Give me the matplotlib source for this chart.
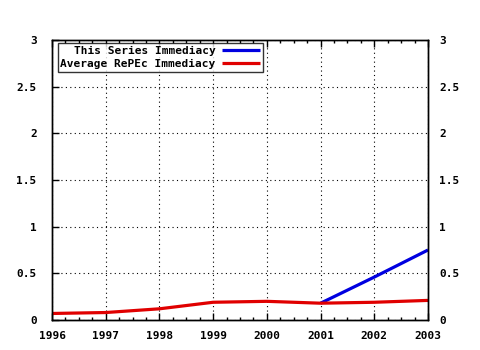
import matplotlib
matplotlib.use("Agg")
import matplotlib.pyplot as plt
from matplotlib.ticker import MultipleLocator

years = [1996, 1997, 1998, 1999, 2000, 2001, 2002, 2003]
avg_immediacy = [0.07, 0.08, 0.12, 0.19, 0.20, 0.18, 0.19, 0.21]
series_years = [2001, 2002, 2003]
series_immediacy = [0.18, 0.46, 0.75]
yticks = [0, 0.5, 1, 1.5, 2, 2.5, 3]
ytick_labels = ['0', '0.5', '1', '1.5', '2', '2.5', '3']

plt.rcParams['font.family'] = ['DejaVu Sans Mono']
plt.rcParams['font.weight'] = 'bold'

fig = plt.figure(figsize=(4.8, 3.5), dpi=100)
ax = fig.add_axes([52/480, 30/350, 376/480, 280/350])

ax.plot(series_years, series_immediacy, color='#0000e0', lw=2.3, label='This Series Immediacy', solid_capstyle='butt')
ax.plot(years, avg_immediacy, color='#e00000', lw=2.3, label='Average RePEc Immediacy', solid_capstyle='butt')

ax.set_xlim(1996, 2003)
ax.set_ylim(0, 3)
ax.set_xticks(years)
ax.set_xticklabels([str(y) for y in years])
ax.xaxis.set_minor_locator(MultipleLocator(0.25))
ax.set_yticks(yticks)
ax.set_yticklabels(ytick_labels)
ax.tick_params(axis='both', which='both', direction='in', top=True, right=True,
               labelsize=8, colors='black')
ax.tick_params(which='major', length=5, width=1)
ax.tick_params(which='minor', length=2.5, width=1)
ax.tick_params(axis='x', pad=8)
ax.tick_params(axis='y', pad=11)

ax2 = ax.twinx()
ax2.set_ylim(0, 3)
ax2.set_yticks(yticks)
ax2.set_yticklabels(ytick_labels)
ax2.tick_params(axis='y', direction='in', length=0, pad=8, labelsize=8)

for lab in ax.get_xticklabels() + ax.get_yticklabels() + ax2.get_yticklabels():
    lab.set_fontweight('bold')
ax.grid(True, which='major', linestyle=(0, (1, 3)), color='black', lw=0.8)
for a in (ax, ax2):
    for s in a.spines.values():
        s.set_linewidth(1)

leg = ax.legend(loc='upper left', bbox_to_anchor=(0.015, 0.99), markerfirst=False,
                frameon=True, fancybox=False, fontsize=8, handlelength=3.4,
                borderpad=0.25, labelspacing=0.3, handletextpad=0.6, borderaxespad=0)
leg.get_frame().set_edgecolor('black')
leg.get_frame().set_linewidth(1)
for t in leg.get_texts():
    t.set_fontweight('bold')

fig.savefig('out.png', dpi=100)
